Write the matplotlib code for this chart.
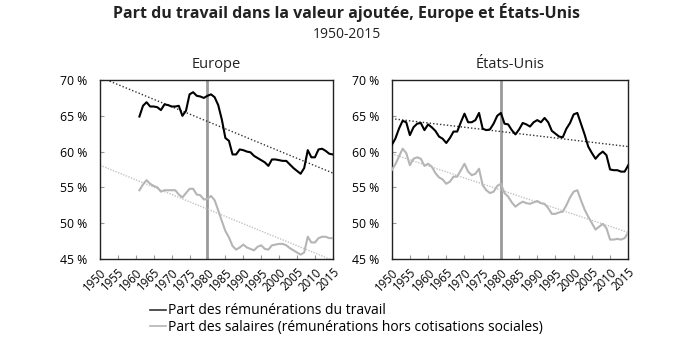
import matplotlib
matplotlib.use("Agg")
import matplotlib.pyplot as plt
import numpy as np

plt.rcParams['font.family'] = ['Open Sans', 'DejaVu Sans']

# Europe, 1961-2015
eu_years = list(range(1961, 2016))
eu_total = [64.9, 66.4, 66.9, 66.3, 66.3, 66.2, 65.8, 66.6, 66.5, 66.3,
            66.3, 66.4, 65.0, 65.7, 68.0, 68.3, 67.8, 67.7, 67.5, 67.8,
            68.0, 67.6, 66.5, 64.5, 61.9, 61.5, 59.6, 59.6, 60.3, 60.2,
            60.0, 59.9, 59.4, 59.1, 58.8, 58.5, 58.0, 58.9, 58.9, 58.8,
            58.7, 58.7, 58.2, 57.7, 57.3, 56.9, 57.7, 60.2, 59.2, 59.2,
            60.3, 60.4, 60.1, 59.7, 59.6]
eu_wages = [54.6, 55.4, 56.0, 55.5, 55.2, 55.0, 54.4, 54.6, 54.6, 54.6,
            54.6, 54.0, 53.6, 54.2, 54.8, 54.8, 54.0, 53.9, 53.3, 53.4,
            53.8, 53.2, 51.8, 50.3, 48.9, 48.0, 46.8, 46.3, 46.6, 47.0,
            46.6, 46.4, 46.2, 46.7, 46.9, 46.4, 46.3, 46.9, 47.0, 47.1,
            47.1, 46.9, 46.5, 46.2, 45.9, 45.6, 45.9, 48.1, 47.3, 47.3,
            47.9, 48.1, 48.1, 47.9, 47.9]

# Etats-Unis, 1950-2015
us_years = list(range(1950, 2016))
us_total = [60.9, 61.8, 63.2, 64.3, 64.1, 62.3, 63.4, 63.9, 64.0, 63.0,
            63.8, 63.4, 62.9, 62.1, 61.8, 61.2, 61.9, 62.8, 62.8, 64.1,
            65.3, 64.1, 64.1, 64.4, 65.4, 63.2, 63.0, 63.1, 63.9, 65.0,
            65.4, 63.9, 63.8, 63.0, 62.4, 63.1, 64.0, 63.8, 63.5, 64.1,
            64.4, 64.1, 64.7, 64.1, 62.9, 62.5, 62.1, 62.0, 63.2, 64.0,
            65.2, 65.4, 63.9, 62.4, 60.7, 59.8, 59.0, 59.6, 60.0, 59.5,
            57.5, 57.4, 57.4, 57.2, 57.2, 58.1]
us_wages = [57.4, 58.2, 59.3, 60.4, 59.8, 58.1, 59.0, 59.2, 59.0, 58.0,
            58.3, 57.9, 57.0, 56.4, 56.1, 55.5, 55.8, 56.5, 56.5, 57.4,
            58.3, 57.2, 56.7, 56.9, 57.6, 55.3, 54.6, 54.2, 54.4, 55.2,
            55.5, 54.2, 53.7, 52.9, 52.3, 52.7, 53.0, 52.8, 52.7, 52.9,
            53.1, 52.8, 52.7, 52.1, 51.3, 51.3, 51.5, 51.6, 52.5, 53.6,
            54.4, 54.6, 53.2, 51.9, 50.9, 50.0, 49.1, 49.5, 49.9, 49.3,
            47.7, 47.7, 47.8, 47.7, 47.9, 48.7]

# linear trends, value at 1950 and at 2015
trend_years = [1950, 2015]
eu_total_trend = [70.4, 57.0]
eu_wages_trend = [58.1, 44.8]
us_total_trend = [64.6, 60.7]
us_wages_trend = [59.7, 48.7]

xticks = list(range(1950, 2016, 5))
yticks = [45, 50, 55, 60, 65, 70]

fig = plt.figure(figsize=(6.93, 3.48), dpi=100)

fig.text(0.5, 0.963, "Part du travail dans la valeur ajoutée, Europe et États-Unis",
         ha="center", va="center", fontsize=11.5, fontweight="bold", color="#222222")
fig.text(0.5, 0.902, "1950-2015", ha="center", va="center", fontsize=10, color="#222222")

panels = [
    ([0.1443, 0.256, 0.336, 0.514], "Europe", eu_years, eu_total, eu_wages,
     eu_total_trend, eu_wages_trend),
    ([0.5652, 0.256, 0.3414, 0.514], "États-Unis", us_years, us_total, us_wages,
     us_total_trend, us_wages_trend),
]

for rect, name, years, total, wages, t_trend, w_trend in panels:
    ax = fig.add_axes(rect)
    ax.axvline(1980, color="#9a9a9a", lw=2, zorder=1)
    ax.plot(trend_years, w_trend, color="#c4c4c4", lw=1, ls=(0, (1, 1)), zorder=2)
    ax.plot(trend_years, t_trend, color="#333333", lw=1, ls=(0, (1, 1.5)), zorder=2)
    ax.plot(years, wages, color="#b5b5b5", lw=1.5, zorder=3)
    ax.plot(years, total, color="black", lw=1.5, zorder=4)

    ax.set_xlim(1950, 2015)
    ax.set_ylim(45, 70)
    ax.set_xticks(xticks)
    ax.set_xticklabels([str(x) for x in xticks], rotation=45, ha="right",
                       rotation_mode="anchor", fontsize=8.3)
    ax.set_yticks(yticks)
    ax.set_yticklabels([f"{y} %" for y in yticks], fontsize=8.8)
    ax.tick_params(axis="x", direction="in", length=3, color="#999999", pad=5)
    ax.tick_params(axis="y", direction="in", length=3, color="#999999", pad=9)
    for s in ax.spines.values():
        s.set_color("#222222")
        s.set_linewidth(1)
    ax.set_title(name, fontsize=10.5, pad=9, color="#222222")

# legend
leg_lines = [plt.Line2D([], [], color="#333333", lw=1.2),
             plt.Line2D([], [], color="#b5b5b5", lw=1.2)]
fig.legend(leg_lines,
           ["Part des rémunérations du travail",
            "Part des salaires (rémunérations hors cotisations sociales)"],
           loc="upper left", bbox_to_anchor=(0.216, 0.128), frameon=False,
           handlelength=1.2, handletextpad=0.15, labelspacing=0.12,
           fontsize=10, borderpad=0, borderaxespad=0)

fig.savefig("out.png", dpi=100)
